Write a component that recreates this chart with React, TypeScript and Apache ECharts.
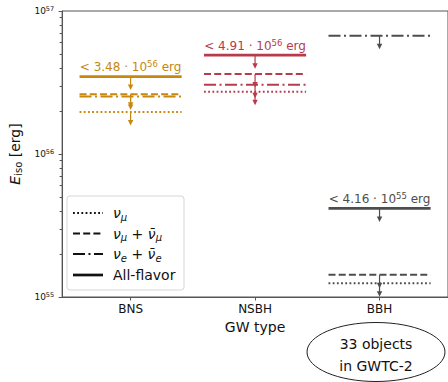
import React, { useEffect, useRef } from 'react';
import * as echarts from 'echarts';

const categories = ['BNS', 'NSBH', 'BBH'];
const allFlavor = [3.48e56, 4.91e56, 4.16e55];
const nuMuPlusBar = [2.62e56, 3.62e56, 1.43e55];
const nuEPlusBar = [2.52e56, 3.05e56, 6.7e56];
const nuMuOnly = [1.97e56, 2.73e56, 1.25e55];
const categoryColors = ['#c8870f', '#b83b4c', '#4d4d4d'];
const yMinorTicks = [2e55, 3e55, 4e55, 5e55, 6e55, 7e55, 8e55, 9e55, 2e56, 3e56, 4e56, 5e56, 6e56, 7e56, 8e56, 9e56];
const ellipseText = '33 objects\nin GWTC-2';

const FONT = 'DejaVu Sans';
const HALF = 0.41;
const STYLES: Record<string, { w: number; dash: number[] | null }> = {
  dot: { w: 2, dash: [1.8, 2.4] },
  dash: { w: 2, dash: [7, 3.2] },
  dashdot: { w: 2, dash: [12, 3.5, 2, 3.5] },
  all: { w: 2.7, dash: null },
};

function fmtLimit(v: number) {
  const e = Math.floor(Math.log10(v));
  const m = (v / Math.pow(10, e)).toFixed(2);
  return `{t|< ${m} · 10}{s|${e}}{t| erg}`;
}

function makeRender(kind: string) {
  return (params: any, api: any) => {
    const ci = api.value(0);
    const v = api.value(1);
    const color = categoryColors[ci];
    const p0 = api.coord([ci - HALF, v]);
    const p1 = api.coord([ci + HALF, v]);
    const pc = api.coord([ci, v]);
    const st = STYLES[kind];
    const children: any[] = [
      {
        type: 'line',
        shape: { x1: p0[0], y1: p0[1], x2: p1[0], y2: p1[1] },
        style: { stroke: color, lineWidth: st.w, lineDash: st.dash || undefined, fill: null },
      },
      {
        type: 'line',
        shape: { x1: pc[0], y1: pc[1], x2: pc[0], y2: pc[1] + 9 },
        style: { stroke: color, lineWidth: 1.2 },
      },
      {
        type: 'polygon',
        shape: { points: [[pc[0] - 2.7, pc[1] + 8], [pc[0] + 2.7, pc[1] + 8], [pc[0], pc[1] + 13.5]] },
        style: { fill: color },
      },
    ];
    if (kind === 'all') {
      children.push({
        type: 'text',
        x: pc[0],
        y: pc[1] - 2,
        style: {
          text: fmtLimit(v),
          align: 'center',
          verticalAlign: 'bottom',
          fill: color,
          fontFamily: FONT,
          rich: {
            t: { fill: color, fontSize: 12, fontFamily: FONT },
            s: { fill: color, fontSize: 8.5, fontFamily: FONT, padding: [0, 0, 6, 0] },
          },
        },
      });
    }
    return { type: 'group', children };
  };
}

function seriesFor(kind: string, values: number[], name: string) {
  return {
    type: 'custom',
    name,
    coordinateSystem: 'cartesian2d',
    xAxisIndex: 0,
    yAxisIndex: 0,
    encode: { x: 0, y: 1 },
    clip: false,
    data: values.map((v, i) => [i, v]),
    renderItem: makeRender(kind),
  };
}

const legendRich = {
  i: { fontSize: 14, fontStyle: 'italic', fontFamily: FONT, fill: '#111' },
  sub: { fontSize: 10, fontStyle: 'italic', fontFamily: FONT, fill: '#111', padding: [8, 0, 0, 0] },
  t: { fontSize: 14, fontFamily: FONT, fill: '#111' },
};

const legendItems = [
  { text: '{i|ν}{sub|μ}', kind: 'dot' },
  { text: '{i|ν}{sub|μ}{t| + }{i|ν̄}{sub|μ}', kind: 'dash' },
  { text: '{i|ν}{sub|e}{t| + }{i|ν̄}{sub|e}', kind: 'dashdot' },
  { text: '{t|All-flavor}', kind: 'all' },
];

export default function App() {
  const ref = useRef<HTMLDivElement>(null);
  useEffect(() => {
    if (!ref.current) return;
    const chart = echarts.init(ref.current, null, { renderer: 'svg' });
    const rowY = [213, 233.5, 254, 275];
    const legendGraphics: any[] = [
      {
        type: 'rect',
        shape: { x: 67, y: 196, width: 117, height: 94, r: 3 },
        style: { fill: 'rgba(255,255,255,0.85)', stroke: '#d6d6d6', lineWidth: 1 },
        z: 10,
      },
    ];
    legendItems.forEach((it, k) => {
      const st = STYLES[it.kind];
      legendGraphics.push({
        type: 'line',
        shape: { x1: 73, y1: rowY[k], x2: 103, y2: rowY[k] },
        style: { stroke: '#111', lineWidth: st.w, lineDash: st.dash || undefined },
        z: 11,
      });
      legendGraphics.push({
        type: 'text',
        x: 113,
        y: rowY[k],
        style: { text: it.text, rich: legendRich, verticalAlign: 'middle', align: 'left', fill: '#111', fontFamily: FONT },
        z: 11,
      });
    });

    chart.setOption({
      animation: false,
      textStyle: { fontFamily: FONT },
      grid: { left: 59, top: 11, width: 393, height: 286, show: true, borderColor: '#555', borderWidth: 1, backgroundColor: 'transparent' },
      xAxis: {
        type: 'value',
        min: -0.55,
        max: 2.55,
        name: 'GW type',
        nameLocation: 'middle',
        nameGap: 21,
        nameTextStyle: { fontSize: 14, color: '#111', fontFamily: FONT },
        splitLine: { show: false },
        axisLine: { onZero: false, lineStyle: { color: '#555', width: 1 } },
        axisTick: { customValues: [0, 1, 2], length: 3.5, lineStyle: { color: '#555' } },
        axisLabel: {
          customValues: [0, 1, 2],
          formatter: (v: number) => categories[Math.round(v)] ?? '',
          fontSize: 12,
          color: '#111',
          margin: 6,
          fontFamily: FONT,
        },
      },
      yAxis: [
        {
          type: 'log',
          min: 1e55,
          max: 1e57,
          logBase: 10,
          position: 'left',
          name: '{e|E}{sub|iso}{t| [erg]}',
          nameLocation: 'middle',
          nameGap: 31,
          nameRotate: 90,
          nameTextStyle: {
            color: '#111',
            rich: {
              e: { fontSize: 14, fontStyle: 'italic', fontFamily: FONT, color: '#111' },
              sub: { fontSize: 10, fontFamily: FONT, color: '#111', padding: [7, 0, 0, 0] },
              t: { fontSize: 14, fontFamily: FONT, color: '#111' },
            },
          },
          splitLine: { show: false },
          axisLine: { show: true, onZero: false, lineStyle: { color: '#555', width: 1 } },
          axisTick: { length: 3.5, lineStyle: { color: '#555' } },
          axisLabel: {
            showMaxLabel: true,
            showMinLabel: true,
            margin: 8,
            formatter: (v: number) => `{a|10}{s|${Math.round(Math.log10(v))}}`,
            rich: {
              a: { fontSize: 9, color: '#111', fontFamily: FONT },
              s: { fontSize: 6.5, color: '#111', fontFamily: FONT, padding: [0, 0, 5, 0] },
            },
          },
        },
        {
          type: 'log',
          min: 1e55,
          max: 1e57,
          position: 'left',
          offset: 0,
          splitLine: { show: false },
          axisLine: { show: false, onZero: false },
          axisTick: { show: true, customValues: yMinorTicks, length: 2.5, lineStyle: { color: '#555', width: 1 } },
          axisLabel: { show: false },
        },
      ],
      series: [
        seriesFor('dot', nuMuOnly, 'nu_mu'),
        seriesFor('dash', nuMuPlusBar, 'nu_mu + bar'),
        seriesFor('dashdot', nuEPlusBar, 'nu_e + bar'),
        seriesFor('all', allFlavor, 'All-flavor'),
      ],
      graphic: [
        ...legendGraphics,
        {
          type: 'ellipse',
          shape: { cx: 376, cy: 352, rx: 69, ry: 29.5 },
          style: { fill: '#fff', stroke: '#222', lineWidth: 1 },
          z: 10,
        },
        {
          type: 'text',
          x: 376,
          y: 355,
          style: {
            text: ellipseText,
            align: 'center',
            verticalAlign: 'middle',
            fontSize: 14,
            lineHeight: 22,
            fill: '#111',
            fontFamily: FONT,
          },
          z: 11,
        },
      ],
    });
    return () => chart.dispose();
  }, []);
  return <div ref={ref} style={{ position: 'fixed', left: 0, top: 0, width: 448, height: 382, background: '#fff' }} />;
}
